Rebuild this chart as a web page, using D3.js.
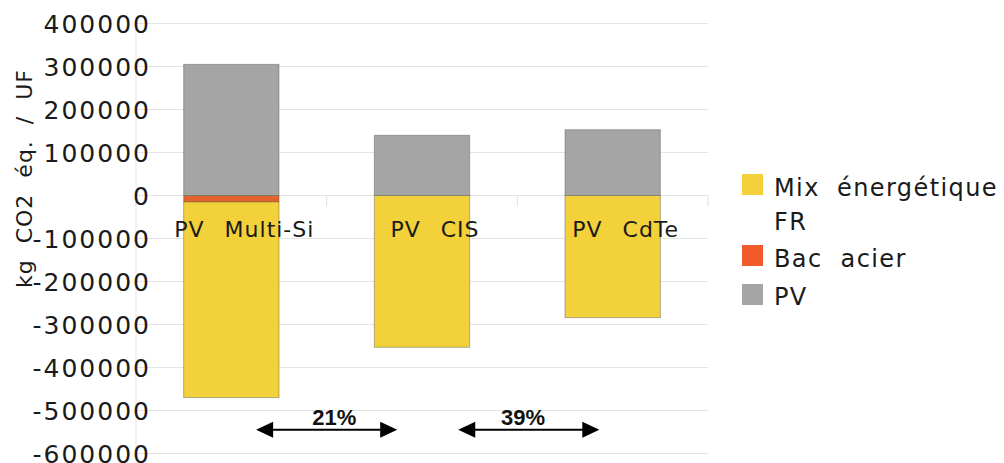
<!DOCTYPE html>
<html>
<head>
<meta charset="utf-8">
<script src="https://cdn.jsdelivr.net/npm/d3@7/dist/d3.min.js"></script>
<style>
  html, body { margin: 0; padding: 0; background: #fff; }
  svg { display: block; }
  text { font-family: "DejaVu Sans", Verdana, sans-serif; fill: #1a1a1a; }
</style>
</head>
<body>
<svg id="chart" width="1004" height="463"></svg>
<script>
// ---- Data ----
const categories = ["PV Multi-Si", "PV CIS", "PV CdTe"];
const seriesNames = ["Mix énergétique FR", "Bac acier", "PV"];
const mixFR = [-455000, -353000, -284000];
const bacAcier = [-15000, 0, 0];
const pv = [305000, 140000, 153000];
const yTicks = [400000, 300000, 200000, 100000, 0, -100000, -200000, -300000, -400000, -500000, -600000];
const arrowLabels = ["21%", "39%"];
const arrowFrom = [0.13, 1.19];   // in category-index units
const arrowTo = [0.87, 1.93];
const arrowLabelAt = [0.54, 1.53];
const arrowValue = -545000;

// ---- Styles ----
const colors = {
  "Mix énergétique FR": "#F2D13A",
  "Bac acier": "#E4622B",
  "PV": "#A5A5A5"
};
const legendColors = {
  "Mix énergétique FR": "#F2D13A",
  "Bac acier": "#F0592A",
  "PV": "#A5A5A5"
};

const svg = d3.select("#chart");
const plotLeft = 136, plotRight = 708;

const rows = categories.map((c, i) => ({
  cat: c,
  "Bac acier": bacAcier[i],
  "Mix énergétique FR": mixFR[i],
  "PV": pv[i]
}));

const stack = d3.stack()
  .keys(["Bac acier", "Mix énergétique FR", "PV"])
  .offset(d3.stackOffsetDiverging);
const stacked = stack(rows);

const x = d3.scaleBand().domain(categories).range([plotLeft, plotRight])
  .paddingInner(0.5).paddingOuter(0.25);
const xi = d3.scaleLinear().domain([0, 1]).range([x(categories[0]) + x.bandwidth() / 2, x(categories[1]) + x.bandwidth() / 2]);
const y = d3.scaleLinear().domain([-600000, 400000]).range([453.5, 23.5]);

// gridlines
svg.append("g").selectAll("line").data(yTicks).join("line")
  .attr("x1", plotLeft).attr("x2", plotRight)
  .attr("y1", d => y(d)).attr("y2", d => y(d))
  .attr("stroke", "#e4e4e4").attr("stroke-width", 1);

// y axis line
svg.append("line")
  .attr("x1", plotLeft).attr("x2", plotLeft)
  .attr("y1", y(400000)).attr("y2", y(-600000))
  .attr("stroke", "#e8e8e8").attr("stroke-width", 1);

// category separator ticks
const seps = d3.range(categories.length + 1).map(i => plotLeft + i * (plotRight - plotLeft) / categories.length);
svg.append("g").selectAll("line").data(seps).join("line")
  .attr("x1", d => d).attr("x2", d => d)
  .attr("y1", y(0)).attr("y2", y(0) + 11)
  .attr("stroke", "#e0e0e0").attr("stroke-width", 1);

// bars
svg.append("g").selectAll("g").data(stacked).join("g")
  .attr("fill", s => colors[s.key])
  .selectAll("rect").data(s => s.filter(d => d[1] - d[0] !== 0)).join("rect")
  .attr("x", d => x(d.data.cat))
  .attr("width", x.bandwidth())
  .attr("y", d => y(Math.max(d[0], d[1])))
  .attr("height", d => Math.abs(y(d[0]) - y(d[1])))
  .attr("stroke", "rgba(90,90,70,0.45)")
  .attr("stroke-width", 1);

// y tick labels
svg.append("g").selectAll("text").data(yTicks).join("text")
  .attr("x", 151)
  .attr("y", d => y(d) + 9)
  .attr("text-anchor", "end")
  .style("font-size", "25px")
  .style("letter-spacing", "2px")
  .text(d => String(d));

// y axis title
svg.append("text")
  .attr("transform", "translate(32,178.5) rotate(-90)")
  .attr("text-anchor", "middle")
  .style("font-size", "22px")
  .style("letter-spacing", "1px")
  .text("kg\u00a0 CO2\u00a0 éq.\u00a0 /\u00a0 UF");

// category labels
const catText = svg.append("g").selectAll("text").data(categories).join("text")
  .attr("x", d => x(d) + x.bandwidth() / 2 + 13)
  .attr("y", 237)
  .attr("text-anchor", "middle")
  .style("font-size", "22px")
  .style("letter-spacing", "1px");
catText.append("tspan").text(d => d.split(" ")[0]);
catText.append("tspan").attr("dx", 20).text(d => d.split(" ").slice(1).join(" "));

// arrows
const ay = y(arrowValue);
const arrows = svg.append("g").selectAll("g").data(arrowLabels).join("g");
arrows.append("line")
  .attr("x1", (d, i) => xi(arrowFrom[i]) + 10)
  .attr("x2", (d, i) => xi(arrowTo[i]) - 10)
  .attr("y1", ay).attr("y2", ay)
  .attr("stroke", "#000").attr("stroke-width", 2);
arrows.append("path")
  .attr("d", (d, i) => {
    const a = xi(arrowFrom[i]);
    return `M${a},${ay} L${a + 17},${ay - 8} L${a + 17},${ay + 8} Z`;
  })
  .attr("fill", "#000");
arrows.append("path")
  .attr("d", (d, i) => {
    const b = xi(arrowTo[i]);
    return `M${b},${ay} L${b - 17},${ay - 8} L${b - 17},${ay + 8} Z`;
  })
  .attr("fill", "#000");
arrows.append("text")
  .attr("x", (d, i) => xi(arrowLabelAt[i]))
  .attr("y", ay - 5)
  .attr("text-anchor", "middle")
  .style("font-family", "'Liberation Sans', Arial, sans-serif")
  .style("font-weight", "bold")
  .style("font-size", "22px")
  .style("fill", "#111")
  .text(d => d);

// legend
const legend = svg.append("g");
const legendItems = [
  { name: "Mix énergétique FR", lines: [["Mix", "énergétique"], ["FR"]], sq: 174, base: 196 },
  { name: "Bac acier", lines: [["Bac", "acier"]], sq: 245, base: 267 },
  { name: "PV", lines: [["PV"]], sq: 284, base: 305 }
];
legendItems.forEach(it => {
  legend.append("rect")
    .attr("x", 742).attr("y", it.sq)
    .attr("width", 21).attr("height", 21)
    .attr("fill", legendColors[it.name]);
  it.lines.forEach((words, li) => {
    const t = legend.append("text")
      .attr("x", 774).attr("y", it.base + li * 34)
      .style("font-size", "24px")
      .style("letter-spacing", "1.4px");
    words.forEach((w, wi) => {
      const sp = t.append("tspan").text(w);
      if (wi > 0) sp.attr("dx", 18);
    });
  });
});
</script>
</body>
</html>
